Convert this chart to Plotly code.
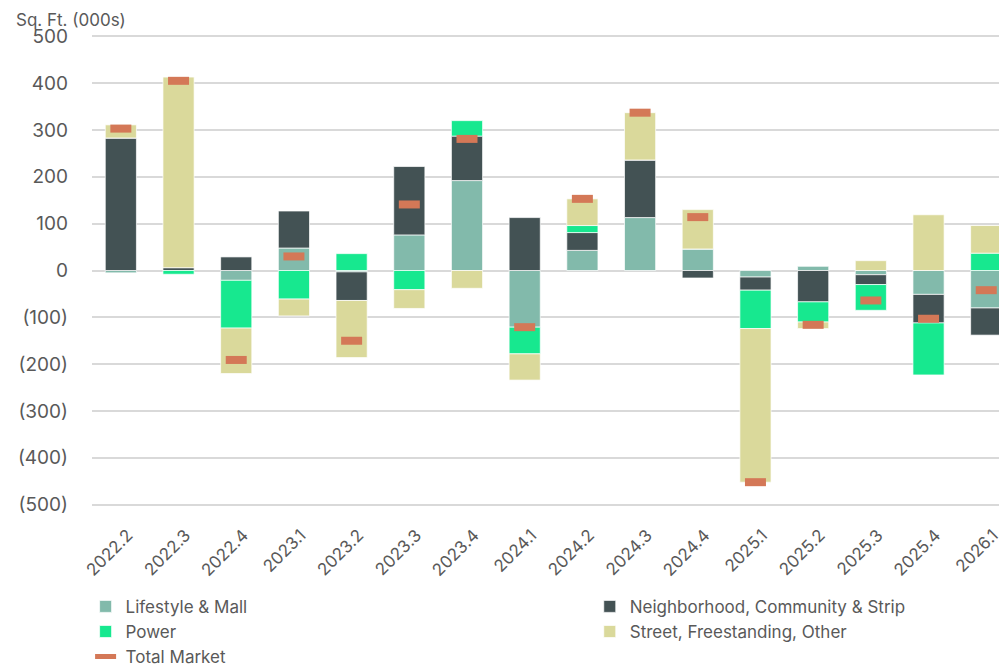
import plotly.graph_objects as go

# Trimestres
trimestres = ["2022.2", "2022.3", "2022.4", "2023.1", "2023.2", "2023.3", "2023.4", "2024.1",
              "2024.2", "2024.3", "2024.4", "2025.1", "2025.2", "2025.3", "2025.4", "2026.1"]

# Absorción neta por tipo (miles de pies cuadrados)
lifestyle = [-5, 0, -21, 48, -3, 76, 192, -121, 43, 113, 46, -14, 9, -9, -51, -80]
neighborhood = [283, 6, 29, 79, -61, 146, 95, 113, 38, 123, -16, -28, -67, -21, -61, -58]
power = [0, -8, -102, -61, 36, -41, 33, -57, 15, 0, 0, -82, -43, -55, -111, 37]
street = [28, 407, -97, -36, -122, -40, -38, -56, 57, 101, 84, -328, -14, 21, 119, 59]
total_market = [303, 405, -191, 30, -150, 141, 281, -121, 153, 337, 114, -452, -116, -64, -103, -42]

# Ejes
ticks_y = [500, 400, 300, 200, 100, 0, -100, -200, -300, -400, -500]
etiquetas_y = ["500", "400", "300", "200", "100", "0", "(100)", "(200)", "(300)", "(400)", "(500)"]

colores = ['#82BAAB', '#435254', '#17E88F', '#DAD99B']
nombres = ["Lifestyle & Mall", "Neighborhood, Community & Strip", "Power", "Street, Freestanding, Other"]
series = [lifestyle, neighborhood, power, street]
leyendas = ['legend', 'legend2', 'legend', 'legend2']  # dos columnas

fuente = "Inter"
gris = '#595959'

fig = go.Figure()

for nombre, valores, color, ley in zip(nombres, series, colores, leyendas):
    fig.add_trace(go.Bar(
        x=trimestres,
        y=valores,
        name=nombre,
        legend=ley,
        marker=dict(color=color, line=dict(color='rgba(255,255,255,0.7)', width=1)),
    ))

# Marcador del total del mercado
fig.add_trace(go.Scatter(
    x=trimestres,
    y=total_market,
    name="Total Market",
    legend='legend',
    mode='markers',
    marker=dict(symbol='line-ew', size=15, color='#D47857',
                line=dict(color='#D47857', width=8)),
))

estilo_leyenda = dict(
    orientation='v',
    yanchor='top',
    xanchor='left',
    traceorder='normal',
    font=dict(family=fuente, size=17, color=gris),
    itemwidth=30,
    tracegroupgap=0,
    bgcolor='rgba(0,0,0,0)',
)

# la página html deja 8px de margen, por eso 999x659
fig.update_layout(
    width=999, height=659,
    barmode='relative',
    bargap=0.46,
    plot_bgcolor='white',
    paper_bgcolor='white',
    font=dict(family=fuente, size=17, color=gris),
    margin=dict(l=84, r=0, t=26, b=160, autoexpand=False),
    legend=dict(estilo_leyenda, x=-0.007, y=-0.173),
    legend2=dict(estilo_leyenda, x=0.544, y=-0.173),
    annotations=[dict(
        text="Sq. Ft. (000s)",
        xref='paper', yref='paper',
        x=0, y=1, xanchor='left', yanchor='middle',
        xshift=-78, yshift=14,
        showarrow=False,
        font=dict(family=fuente, size=17, color=gris),
    )],
)

fig.update_xaxes(
    range=[-0.5, 15.36],
    tickangle=-45,
    showgrid=False,
    showline=False,
    ticks='',
    ticklabelstandoff=14,
    ticklabelshift=7,
    tickfont=dict(family=fuente, size=17, color=gris),
)

fig.update_yaxes(
    range=[-505, 505],
    tickvals=ticks_y,
    ticktext=etiquetas_y,
    showgrid=True,
    gridcolor='#D9D9D9',
    gridwidth=2,
    zeroline=True,
    zerolinecolor='#D9D9D9',
    zerolinewidth=2,
    ticks='',
    ticklabelstandoff=23,
    tickfont=dict(family=fuente, size=19, color=gris),
)

fig.write_html("out.html")
